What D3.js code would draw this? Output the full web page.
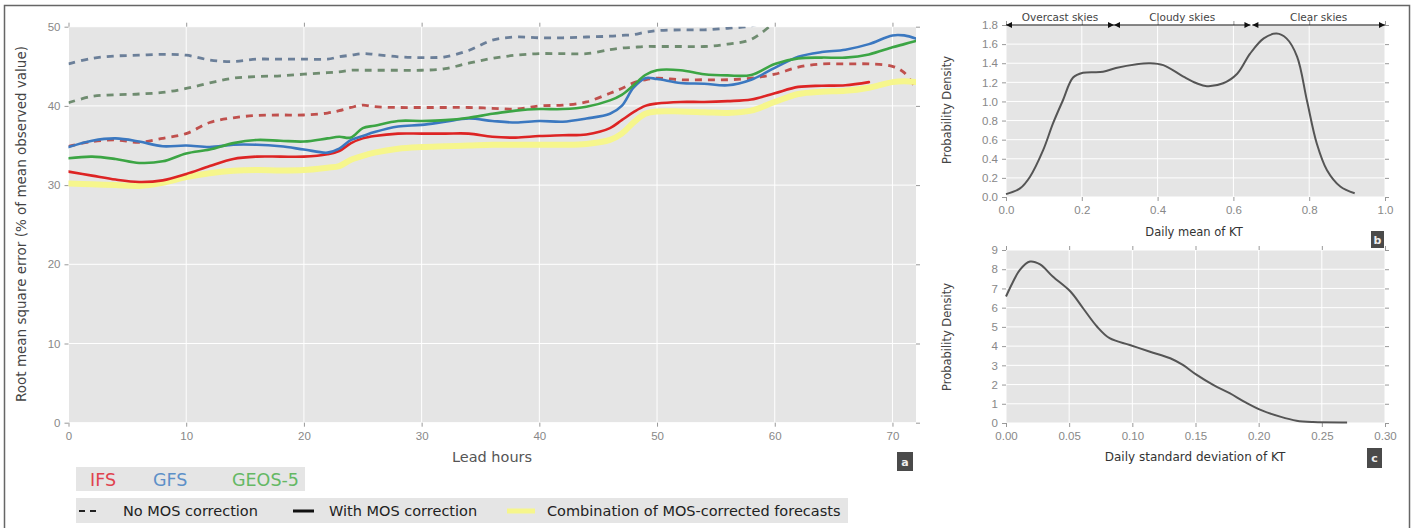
<!DOCTYPE html>
<html><head><meta charset="utf-8">
<script src="https://cdn.jsdelivr.net/npm/d3@7"></script>
<style>
body{margin:0;background:#fff;}
svg{display:block;font-family:"DejaVu Sans",sans-serif;}
</style></head>
<body>
<svg id="c" width="1415" height="528"></svg>
<script>
// ---------- DATA ----------
const hours = [0,2,4,6,8,10,12,14,16,18,20,22,23,24,25,26,28,30,32,34,36,38,40,42,44,46,47,48,49,50,52,54,56,58,60,62,64,66,68,70,71,72];
const gfsRaw  = [45.3,46.0,46.3,46.4,46.5,46.4,45.8,45.6,45.9,45.9,45.9,45.9,46.2,46.4,46.6,46.5,46.2,46.1,46.2,47.0,48.3,48.7,48.6,48.6,48.7,48.8,48.9,49.0,49.3,49.5,49.6,49.6,49.8,50.1,51.0,null,null,null,null,null,null,null];
const geosRaw = [40.4,41.2,41.4,41.5,41.7,42.2,42.9,43.5,43.7,43.8,44.0,44.2,44.3,44.5,44.5,44.5,44.5,44.5,44.7,45.4,46.0,46.4,46.6,46.6,46.6,47.1,47.3,47.4,47.5,47.5,47.5,47.5,47.8,48.4,50.6,null,null,null,null,null,null,null];
const ifsRaw  = [34.9,35.5,35.7,35.4,35.9,36.5,37.9,38.5,38.8,38.85,38.85,39.1,39.4,39.8,40.1,39.9,39.8,39.8,39.8,39.8,39.7,39.6,40.0,40.1,40.5,41.6,42.2,42.9,43.3,43.5,43.3,43.3,43.3,43.5,44.0,44.9,45.3,45.3,45.3,45.0,44.2,42.2];
const gfsMos  = [34.8,35.6,35.9,35.5,34.9,35.0,34.8,35.1,35.1,34.9,34.5,34.1,34.6,35.7,36.2,36.7,37.4,37.6,38.0,38.4,38.1,37.9,38.1,38.0,38.4,39.0,40.0,42.3,43.5,43.4,42.9,42.8,42.6,43.3,44.8,46.2,46.8,47.1,47.8,48.9,48.9,48.5];
const geosMos = [33.4,33.6,33.3,32.8,33.0,34.0,34.5,35.3,35.7,35.6,35.5,35.9,36.1,36.0,37.2,37.5,38.1,38.1,38.2,38.5,39.0,39.4,39.6,39.6,39.9,40.7,41.4,42.6,43.9,44.5,44.5,44.0,43.85,43.9,45.3,46.0,46.1,46.1,46.5,47.4,47.8,48.2];
const ifsMos  = [31.7,31.2,30.7,30.4,30.6,31.4,32.4,33.3,33.6,33.6,33.6,33.9,34.3,35.3,35.9,36.2,36.5,36.5,36.5,36.5,36.1,36.0,36.2,36.3,36.4,37.2,38.2,39.2,40.0,40.3,40.5,40.5,40.6,40.8,41.6,42.4,42.55,42.6,43.0,null,null,null];
const combo   = [30.2,30.1,30.0,29.9,30.3,31.0,31.5,31.8,31.9,31.85,31.9,32.2,32.4,33.2,33.7,34.1,34.6,34.8,34.9,35.0,35.1,35.1,35.1,35.1,35.2,35.7,36.5,37.9,39.0,39.3,39.3,39.2,39.1,39.4,40.5,41.5,41.8,41.9,42.3,43.0,43.1,43.0];

const mainXTicks = [0,10,20,30,40,50,60,70];
const mainYTicks = [0,10,20,30,40,50];

const ktMean    = [0.0,0.037,0.063,0.098,0.124,0.15,0.177,0.203,0.256,0.29,0.345,0.38,0.415,0.468,0.503,0.53,0.573,0.61,0.644,0.68,0.714,0.74,0.768,0.794,0.82,0.847,0.882,0.92];
const ktMeanPdf = [0.03,0.09,0.21,0.49,0.77,1.01,1.25,1.30,1.31,1.35,1.39,1.40,1.38,1.26,1.19,1.16,1.19,1.29,1.50,1.66,1.71,1.66,1.47,1.01,0.56,0.28,0.11,0.04];
const bXTicks = [0.0,0.2,0.4,0.6,0.8,1.0];
const bYTicks = [0.0,0.2,0.4,0.6,0.8,1.0,1.2,1.4,1.6,1.8];
const skyLabels = ["Overcast skies","Cloudy skies","Clear skies"];
const skyRanges = [[0.0,0.285],[0.285,0.645],[0.65,1.0]];

const ktStd    = [0.0,0.005,0.011,0.019,0.027,0.037,0.051,0.061,0.072,0.082,0.098,0.114,0.13,0.14,0.151,0.164,0.177,0.19,0.203,0.217,0.23,0.243,0.27];
const ktStdPdf = [6.58,7.27,7.97,8.4,8.25,7.62,6.84,5.97,5.02,4.41,4.06,3.71,3.37,3.02,2.5,1.98,1.55,1.06,0.64,0.33,0.12,0.05,0.03];
const cXTicks = [0.00,0.05,0.10,0.15,0.20,0.25,0.30];
const cYTicks = [0,1,2,3,4,5,6,7,8,9];

const modelNames = ["IFS","GFS","GEOS-5"];
const legendStyles = ["No MOS correction","With MOS correction","Combination of MOS-corrected forecasts"];

// ---------- DRAW ----------
const svg = d3.select("#c");
svg.append("rect").attr("x",4.5).attr("y",5.5).attr("width",1405).attr("height",600)
  .attr("fill","none").attr("stroke","#666").attr("stroke-width",1.5);

const BG="#e5e5e5", TICK="#999", TXT="#888";

function panel(x, y, xt, yt, xfmt, yfmt, id){
  const [x0,x1]=x.range(), [y0,y1]=y.range();
  const g = svg.append("g");
  g.append("rect").attr("x",x0).attr("y",y1).attr("width",x1-x0).attr("height",y0-y1).attr("fill",BG);
  g.selectAll(".vg").data(xt).join("line").attr("x1",d=>x(d)).attr("x2",d=>x(d)).attr("y1",y1).attr("y2",y0)
    .attr("stroke","#fff").attr("stroke-width",1);
  g.selectAll(".hg").data(yt).join("line").attr("y1",d=>y(d)).attr("y2",d=>y(d)).attr("x1",x0).attr("x2",x1)
    .attr("stroke","#fff").attr("stroke-width",1);
  const ax = (gen, tr) => {
    const a = g.append("g").attr("transform",tr).call(gen);
    a.select(".domain").remove();
    a.selectAll("line").attr("stroke",TICK);
    a.selectAll("text").attr("fill",TXT).attr("font-size",11.5);
    return a;
  };
  ax(d3.axisBottom(x).tickValues(xt).tickFormat(xfmt).tickSize(4).tickPadding(5), `translate(0,${y0})`);
  ax(d3.axisTop(x).tickValues(xt).tickFormat("").tickSize(4), `translate(0,${y1})`);
  ax(d3.axisLeft(y).tickValues(yt).tickFormat(yfmt).tickSize(4).tickPadding(4), `translate(${x0},0)`);
  ax(d3.axisRight(y).tickValues(yt).tickFormat("").tickSize(4), `translate(${x1},0)`);
  svg.append("clipPath").attr("id",id).append("rect").attr("x",x0).attr("y",y1).attr("width",x1-x0).attr("height",y0-y1);
  return g;
}

// main panel
const xM = d3.scaleLinear().domain([0,72]).range([68.5,916]);
const yM = d3.scaleLinear().domain([0,50]).range([422.7,26.7]);
panel(xM,yM,mainXTicks,mainYTicks,d3.format("d"),d3.format("d"),"clipM");
const lines = svg.append("g").attr("clip-path","url(#clipM)");
const lineGen = d3.line().defined(d=>d[1]!=null).x(d=>xM(d[0])).y(d=>yM(d[1])).curve(d3.curveCatmullRom);
const zipH = arr => hours.map((h,i)=>[h,arr[i]]);
const series = [
  {v:gfsRaw,  c:"#6b7f99", w:2.8, dash:"7,6"},
  {v:geosRaw, c:"#6f8c70", w:2.8, dash:"7,6"},
  {v:ifsRaw,  c:"#c0504d", w:2.8, dash:"7,6"},
  {v:combo,   c:"#f6f68c", w:6,   dash:null},
  {v:ifsMos,  c:"#dd2424", w:2.6, dash:null},
  {v:gfsMos,  c:"#3b78c0", w:2.6, dash:null},
  {v:geosMos, c:"#3ca544", w:2.6, dash:null}
];
series.forEach(s=>{
  lines.append("path").attr("d",lineGen(zipH(s.v))).attr("fill","none").attr("stroke",s.c)
    .attr("stroke-width",s.w).attr("stroke-dasharray",s.dash).attr("stroke-linecap",s.dash?"butt":"round");
});
svg.append("text").attr("transform","translate(26,224) rotate(-90)").attr("text-anchor","middle")
  .attr("font-size",13.5).attr("fill","#444").text("Root mean square error (% of mean observed value)");
svg.append("text").attr("x",492).attr("y",462).attr("text-anchor","middle").attr("font-size",14.5).attr("fill","#555").text("Lead hours");

function tag(x,y,w,h,t){
  svg.append("rect").attr("x",x).attr("y",y).attr("width",w).attr("height",h).attr("fill","#4a4a4a");
  svg.append("text").attr("x",x+w/2).attr("y",y+h/2+4).attr("text-anchor","middle").attr("font-size",11)
    .attr("font-weight","bold").attr("fill","#eee").text(t);
}
tag(897,452,16,19,"a");

// legend
svg.append("rect").attr("x",76).attr("y",467).attr("width",229).attr("height",24).attr("fill",BG);
const modelColors = ["#e0434f","#5d90c8","#64b864"];
const modelX = [90,153,232];
modelNames.forEach((n,i)=>svg.append("text").attr("x",modelX[i]).attr("y",486).attr("font-size",17.5)
  .attr("fill",modelColors[i]).text(n));
svg.append("rect").attr("x",76).attr("y",498).attr("width",772).attr("height",25).attr("fill",BG);
svg.append("line").attr("x1",79).attr("x2",100).attr("y1",511).attr("y2",511).attr("stroke","#222")
  .attr("stroke-width",2).attr("stroke-dasharray","6,5");
svg.append("line").attr("x1",293).attr("x2",314).attr("y1",511).attr("y2",511).attr("stroke","#111").attr("stroke-width",3);
svg.append("line").attr("x1",507).attr("x2",535).attr("y1",511).attr("y2",511).attr("stroke","#f6f68c").attr("stroke-width",5);
const legX=[123,329,547];
legendStyles.forEach((t,i)=>svg.append("text").attr("x",legX[i]).attr("y",516).attr("font-size",14.5)
  .attr("fill","#222").text(t));

// panel b
const xB = d3.scaleLinear().domain([0,1]).range([1006,1385]);
const yB = d3.scaleLinear().domain([0,1.8]).range([197,25]);
panel(xB,yB,bXTicks,bYTicks,d3.format(".1f"),d3.format(".1f"),"clipB");
svg.append("path").attr("d",d3.line().x(d=>xB(d)).y((d,i)=>yB(ktMeanPdf[i])).curve(d3.curveCatmullRom)(ktMean))
  .attr("fill","none").attr("stroke","#555").attr("stroke-width",2);
const defs = svg.append("defs");
defs.append("marker").attr("id","ah").attr("viewBox","0 0 10 10").attr("refX",10).attr("refY",5)
  .attr("markerWidth",9).attr("markerHeight",6).attr("markerUnits","userSpaceOnUse").attr("orient","auto-start-reverse")
  .append("path").attr("d","M0,0L10,5L0,10z").attr("fill","#111");
skyRanges.forEach((r,i)=>{
  svg.append("line").attr("x1",xB(r[0])).attr("x2",xB(r[1])).attr("y1",yB(1.8)).attr("y2",yB(1.8))
    .attr("stroke","#111").attr("stroke-width",1).attr("marker-start","url(#ah)").attr("marker-end","url(#ah)");
  svg.append("text").attr("x",xB((r[0]+r[1])/2)).attr("y",21).attr("text-anchor","middle").attr("font-size",10.5)
    .attr("fill","#444").text(skyLabels[i]);
});
svg.append("text").attr("transform","translate(951,110) rotate(-90)").attr("text-anchor","middle")
  .attr("font-size",11.5).attr("fill","#444").text("Probability Density");
svg.append("text").attr("x",1194).attr("y",236).attr("text-anchor","middle").attr("font-size",11.5).attr("fill","#333").text("Daily mean of KT");
tag(1371,231,13,17,"b");

// panel c
const xC = d3.scaleLinear().domain([0,0.3]).range([1006,1385]);
const yC = d3.scaleLinear().domain([0,9]).range([423,250]);
panel(xC,yC,cXTicks,cYTicks,d3.format(".2f"),d3.format("d"),"clipC");
svg.append("path").attr("d",d3.line().x(d=>xC(d)).y((d,i)=>yC(ktStdPdf[i])).curve(d3.curveCatmullRom)(ktStd))
  .attr("fill","none").attr("stroke","#555").attr("stroke-width",2);
svg.append("text").attr("transform","translate(951,337) rotate(-90)").attr("text-anchor","middle")
  .attr("font-size",11.5).attr("fill","#444").text("Probability Density");
svg.append("text").attr("x",1195).attr("y",461).attr("text-anchor","middle").attr("font-size",12).attr("fill","#333").text("Daily standard deviation of KT");
tag(1367,448,15,20,"c");
</script>
</body></html>
